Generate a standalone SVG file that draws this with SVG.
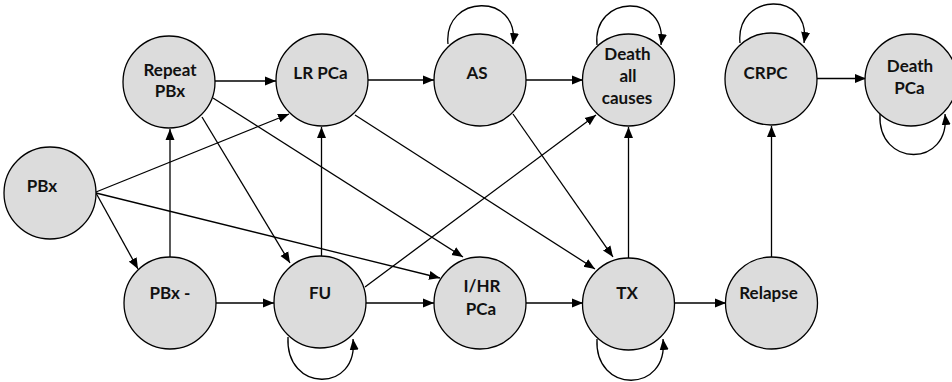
<svg xmlns="http://www.w3.org/2000/svg" width="952" height="382" viewBox="0 0 952 382">
  <style>
    .node circle { fill: #dcdcdc; stroke: #000; stroke-width: 1.3; }
    .node text { font-family: Lato, "Liberation Sans", sans-serif; font-weight: bold; font-size: 17px; fill: #111; text-anchor: middle; }
    .edges path, .edges line { fill: none; stroke: #000; stroke-width: 1.3; marker-end: url(#arrow); }
  </style>
  <defs>
    <marker id="arrow" markerUnits="userSpaceOnUse" markerWidth="12" markerHeight="10" refX="11" refY="5" orient="auto">
      <path d="M0,0.5 L11,5 L0,9.5 Z" fill="#000"/>
    </marker>
  </defs>
  <rect width="952" height="382" fill="#fff"/>

  <g class="edges">
    <line x1="215" y1="81" x2="276" y2="81"/>
    <line x1="96" y1="192" x2="289" y2="114"/>
    <line x1="96" y1="193" x2="138" y2="269"/>
    <line x1="96" y1="193" x2="440" y2="278"/>
    <line x1="170" y1="257" x2="170" y2="129"/>
    <line x1="216" y1="303" x2="274" y2="303"/>
    <line x1="202" y1="117" x2="290" y2="263"/>
    <line x1="213" y1="98" x2="463" y2="257"/>
    <line x1="321.5" y1="256" x2="321.5" y2="127"/>
    <line x1="368" y1="80" x2="434" y2="80"/>
    <line x1="355" y1="115" x2="595" y2="269"/>
    <line x1="526" y1="80" x2="583" y2="80"/>
    <line x1="513" y1="114" x2="613" y2="257"/>
    <line x1="365" y1="287" x2="596" y2="115"/>
    <line x1="366" y1="303" x2="434" y2="303"/>
    <line x1="526" y1="303" x2="583" y2="303"/>
    <line x1="628.5" y1="258" x2="628.5" y2="127"/>
    <line x1="674" y1="303" x2="726" y2="303"/>
    <line x1="771.5" y1="257" x2="771.5" y2="126"/>
    <line x1="817" y1="78.5" x2="866" y2="78.5"/>
    <!-- self loops -->
    <path d="M448,44 C443,-6 520,-8 513,44"/>
    <path d="M597,45 C592,-6 668,-8 661,45"/>
    <path d="M740,43 C735,-8 812,-10 804,43"/>
    <path d="M880,114 C877,168 951,168 945,114"/>
    <path d="M288,337 C285,393 359,393 353,339"/>
    <path d="M597,339 C594,394 669,394 663,339"/>
  </g>

  <g id="pbx" class="node"><circle cx="50" cy="193" r="46"/><text x="42" y="192">PBx</text></g>
  <g id="repeat-pbx" class="node"><circle cx="169" cy="82" r="46"/><text x="170" y="75.5">Repeat</text><text x="170" y="97">PBx</text></g>
  <g id="pbx-neg" class="node"><circle cx="170" cy="303" r="46"/><text x="170" y="299">PBx -</text></g>
  <g id="lr-pca" class="node"><circle cx="322" cy="80" r="46"/><text x="320.5" y="78.5">LR PCa</text></g>
  <g id="fu" class="node"><circle cx="320" cy="302" r="46"/><text x="320" y="299">FU</text></g>
  <g id="as" class="node"><circle cx="480" cy="80" r="46"/><text x="477" y="79">AS</text></g>
  <g id="ihr-pca" class="node"><circle cx="480" cy="303" r="46"/><text x="482" y="292">I/HR</text><text x="481" y="315">PCa</text></g>
  <g id="death-all" class="node"><circle cx="628.5" cy="80" r="46"/><text x="627.5" y="59.5">Death</text><text x="628" y="81.5">all</text><text x="627" y="103.5">causes</text></g>
  <g id="tx" class="node"><circle cx="628.5" cy="304" r="46"/><text x="627" y="298.5">TX</text></g>
  <g id="crpc" class="node"><circle cx="771" cy="79" r="46"/><text x="765.5" y="79">CRPC</text></g>
  <g id="relapse" class="node"><circle cx="771.5" cy="303" r="46"/><text x="768.5" y="298.5">Relapse</text></g>
  <g id="death-pca" class="node"><circle cx="911" cy="80" r="46"/><text x="910" y="71.5">Death</text><text x="909.5" y="94">PCa</text></g>
</svg>
